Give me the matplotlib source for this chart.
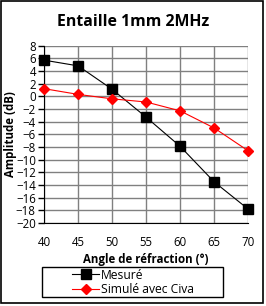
import matplotlib.pyplot as plt
from matplotlib.patches import Rectangle

# === DATA ===
angles = [40, 45, 50, 55, 60, 65, 70]
mesure = [5.7, 4.8, 1.1, -3.3, -7.9, -13.5, -17.8]
simule = [1.2, 0.3, -0.4, -0.9, -2.3, -5.0, -8.6]
y_ticks = list(range(-20, 9, 2))
x_ticks = [40, 45, 50, 55, 60, 65, 70]

plt.rcParams['font.family'] = ['Open Sans', 'DejaVu Sans']

fig = plt.figure(figsize=(2.66, 3.06), dpi=100)
ax = fig.add_axes([0.166, 0.271, 0.767, 0.580])

ax.plot(angles, mesure, color='black', lw=0.8, marker='s', ms=7.5,
        mfc='black', mec='black', label='Mesuré', clip_on=False, zorder=3)
ax.plot(angles, simule, color='red', lw=0.8, marker='D', ms=5.5,
        mfc='red', mec='red', label='Simulé avec Civa', clip_on=False, zorder=3)

ax.set_xlim(40, 70)
ax.set_ylim(-20, 8)
ax.set_xticks(x_ticks)
ax.set_yticks(y_ticks)
ax.grid(True, color='#808080', lw=1.0)
ax.set_axisbelow(True)

for s in ['top', 'right']:
    ax.spines[s].set_visible(False)
ax.spines['left'].set_color('black')
ax.spines['bottom'].set_color('black')
ax.tick_params(axis='y', direction='out', length=4, width=1, labelsize=8.3, pad=2)
ax.tick_params(axis='x', length=0, labelsize=8.3, pad=9)

ax.set_xlabel('Angle de réfraction (°)', fontsize=8.3, fontweight='bold', labelpad=3)
ax.set_ylabel('Amplitude (dB)', fontsize=8.3, fontweight='bold', labelpad=-1)
fig.text(0.5, 0.927, 'Entaille 1mm 2MHz', ha='center', va='center',
         fontsize=11.4, fontweight='bold')

# legend box (drawn by hand, entries placed inside)
fig.patches.append(Rectangle((0.158, 0.029), 0.680, 0.098, transform=fig.transFigure,
                             fill=False, edgecolor='black', lw=1.0))
fig.legend(loc='center left', bbox_to_anchor=(0.272, 0.078), frameon=False,
           fontsize=8.7, handlelength=2.2, handletextpad=0.15, borderpad=0.0,
           labelspacing=0.1, borderaxespad=0)

# outer chart border
fig.patches.append(Rectangle((0.004, 0.010), 0.985, 0.986, transform=fig.transFigure,
                             fill=False, edgecolor='black', lw=1.2))

fig.savefig('out.png', dpi=100)
